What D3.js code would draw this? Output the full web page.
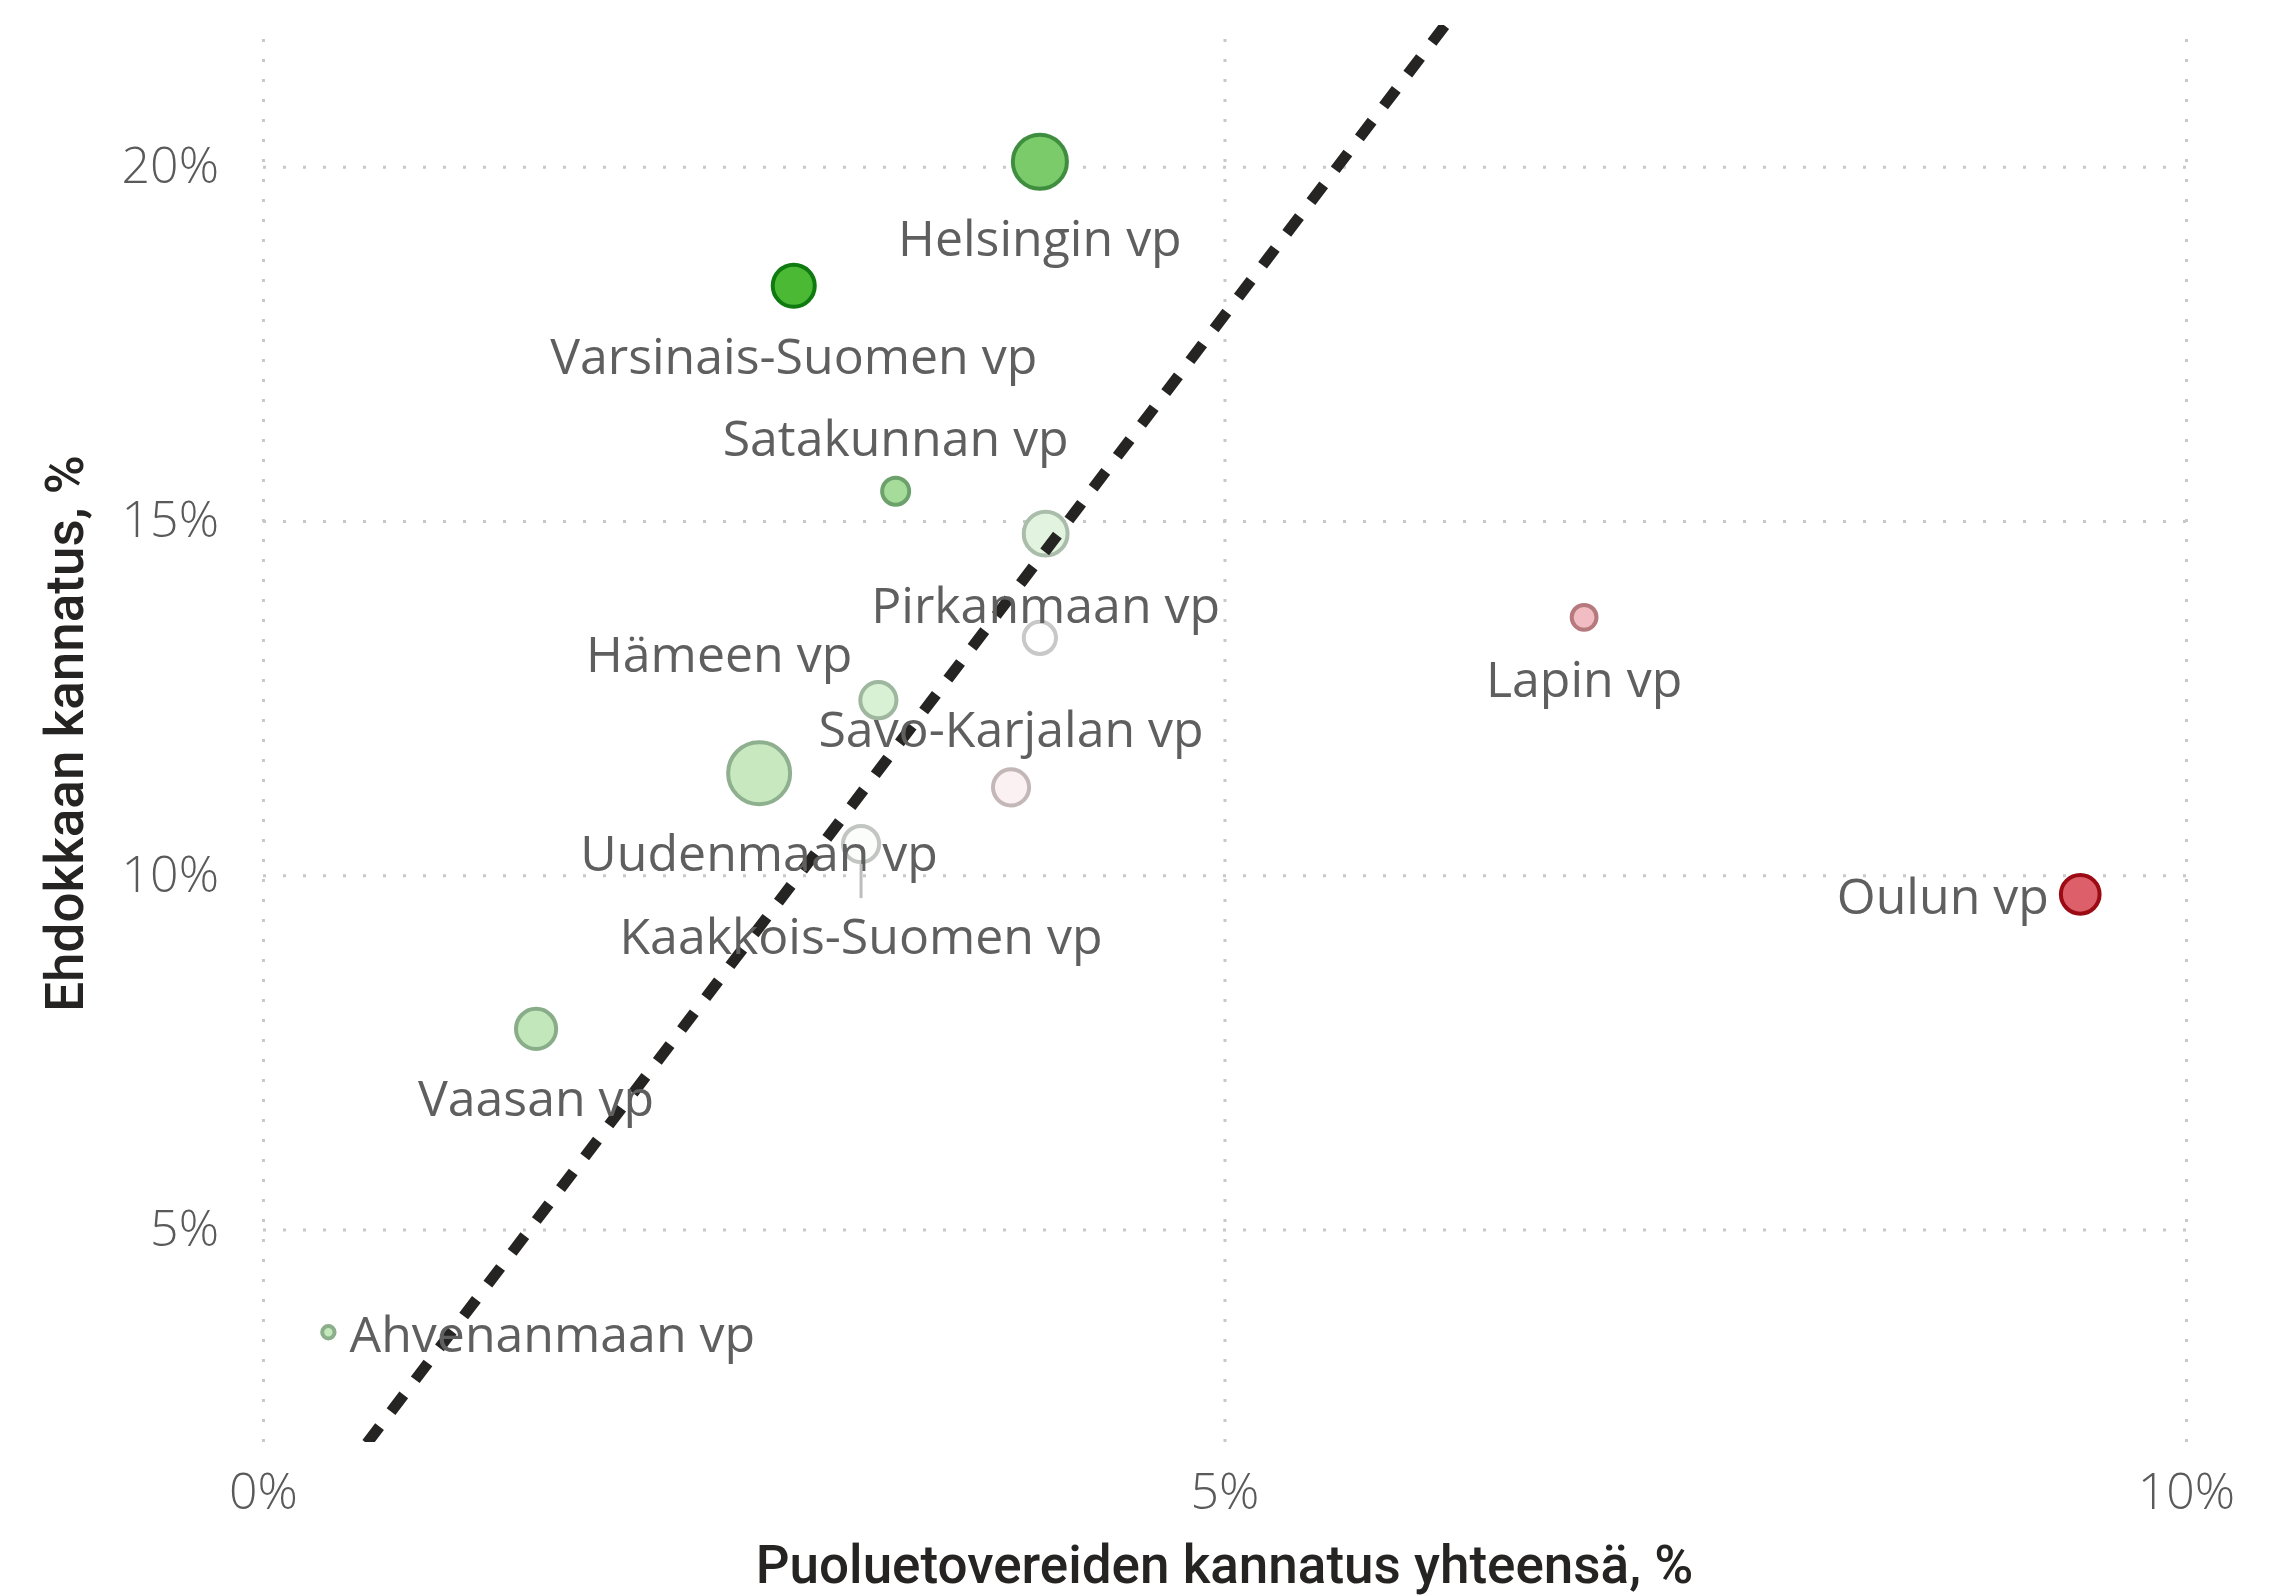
<!DOCTYPE html>
<html lang="fi">
<head>
<meta charset="utf-8">
<title>Ehdokkaan kannatus</title>
<script src="https://cdn.jsdelivr.net/npm/d3@7"></script>
<style>
  body { margin: 0; background: #fff; }
  svg { display: block; }
</style>
</head>
<body>
<svg id="chart"></svg>
<script>
// vaalipiirit
var vaalipiirit = ["Helsingin vp", "Varsinais-Suomen vp", "Satakunnan vp", "Pirkanmaan vp",
  "Keski-Suomen vp", "Hämeen vp", "Uudenmaan vp", "Savo-Karjalan vp", "Kaakkois-Suomen vp",
  "Vaasan vp", "Ahvenanmaan vp", "Lapin vp", "Oulun vp"];
// x: puoluetovereiden kannatus yhteensä, %
var puoluetoverit = [4.04, 2.76, 3.29, 4.07, 4.04, 3.20, 2.58, 3.89, 3.11, 1.42, 0.34, 6.87, 9.45];
// y: ehdokkaan kannatus, %
var ehdokas = [20.07, 18.32, 15.42, 14.82, 13.35, 12.47, 11.44, 11.24, 10.44, 7.83, 3.55, 13.64, 9.73];
// kuplan koko (suhteellinen)
var koko = [76, 46, 19, 50, 27, 34, 100, 34, 34, 42, 4, 16, 39];
// väriarvo, -1 = punainen ... 1 = vihreä
var vari = [0.74, 1.0, 0.5, 0.16, 0, 0.22, 0.31, -0.09, 0.03, 0.34, 0.33, -0.41, -1];

var xTicks = [0, 5, 10];
var yTicks = [5, 10, 15, 20];

// katkoviiva
var trendiX = [0.54, 6.17];
var trendiY = [1.98, 22.08];

// label placement (Keski-Suomen label hidden like in the original)
var labelPos = {
  "Helsingin vp": "below", "Varsinais-Suomen vp": "below", "Satakunnan vp": "above",
  "Pirkanmaan vp": "below", "Hämeen vp": "upleft", "Uudenmaan vp": "below",
  "Savo-Karjalan vp": "above", "Kaakkois-Suomen vp": "leader", "Vaasan vp": "below",
  "Ahvenanmaan vp": "right", "Lapin vp": "below", "Oulun vp": "left"
};

var W = 2294, H = 1596;
var margin = { top: 25, right: 108, bottom: 154, left: 263 };
var w = W - margin.left - margin.right,
    h = H - margin.top - margin.bottom;

var data = vaalipiirit.map(function (d, i) {
  return { nimi: d, x: puoluetoverit[i], y: ehdokas[i], koko: koko[i], v: vari[i] };
});

var svg = d3.select("#chart").attr("width", W).attr("height", H);
var g = svg.append("g").attr("transform", `translate(${margin.left},${margin.top})`);

var x = d3.scaleLinear().domain([0, 10]).range([0, w]);
var y = d3.scaleLinear().domain([2, 22]).range([h, 0]);
var r = d3.scaleSqrt().domain([0, 100]).range([0, 31]);

var fill = d3.scaleLinear().domain([-1, 0, 1]).range(["#dc5f6a", "#ffffff", "#4cb935"]);
var stroke = d3.scaleLinear().domain([-1, 0, 1]).range(["#9c0a14", "#c8c8c8", "#0f7a0f"]);

var labelFont = "'Segoe UI', 'Open Sans', sans-serif";
var titleFont = "'DIN', Roboto, sans-serif";

// gridlines
g.append("g").attr("class", "xgrid")
  .attr("transform", `translate(0,${h})`)
  .call(d3.axisBottom(x).tickValues(xTicks).tickSize(-h).tickFormat(""))
  .call(s => s.select(".domain").remove());
g.append("g").attr("class", "ygrid")
  .call(d3.axisLeft(y).tickValues(yTicks).tickSize(-w).tickFormat(""))
  .call(s => s.select(".domain").remove());
g.selectAll(".xgrid line, .ygrid line")
  .attr("stroke", "#c8c8c8").attr("stroke-width", 3)
  .attr("stroke-dasharray", "3 17");

// axes (labels only)
var xAxis = g.append("g")
  .attr("transform", `translate(0,${h})`)
  .call(d3.axisBottom(x).tickValues(xTicks).tickSize(0).tickPadding(31).tickFormat(d => d + "%"));
var yAxis = g.append("g")
  .call(d3.axisLeft(y).tickValues(yTicks).tickSize(0).tickPadding(44).tickFormat(d => d + "%"));
[xAxis, yAxis].forEach(function (a) {
  a.select(".domain").remove();
  a.selectAll("text")
    .attr("fill", "#5a5a5a")
    .style("font-family", labelFont)
    .style("font-weight", 300)
    .style("font-size", "50px");
});

// bubbles
g.append("g").selectAll("circle")
  .data(data.slice().sort((a, b) => b.koko - a.koko))
  .join("circle")
  .attr("cx", d => x(d.x))
  .attr("cy", d => y(d.y))
  .attr("r", d => r(d.koko))
  .attr("fill", d => fill(d.v))
  .attr("stroke", d => stroke(d.v))
  .attr("stroke-width", 4);

// dashed line
svg.append("defs").append("clipPath").attr("id", "plotclip")
  .append("rect").attr("width", w).attr("height", h);
g.append("line")
  .attr("clip-path", "url(#plotclip)")
  .attr("x1", x(trendiX[0])).attr("y1", y(trendiY[0]))
  .attr("x2", x(trendiX[1])).attr("y2", y(trendiY[1]))
  .attr("stroke", "#252423")
  .attr("stroke-width", 11)
  .attr("stroke-dasharray", "21 19");

// data labels
var labels = g.append("g")
  .style("font-family", labelFont)
  .style("font-size", "50px")
  .attr("fill", "#5f5f5f");

data.forEach(function (d) {
  var pos = labelPos[d.nimi];
  if (!pos) return;
  var cx = x(d.x), cy = y(d.y), rr = r(d.koko) + 2;
  var tx = cx, ty = cy, anchor = "middle";
  if (pos === "below") { ty = cy + rr + 65; }
  else if (pos === "above") { ty = cy - rr - 20; }
  else if (pos === "upleft") { tx = cx - rr - 6; ty = cy - 28; anchor = "end"; }
  else if (pos === "left") { tx = cx - rr - 10; ty = cy + 20; anchor = "end"; }
  else if (pos === "right") { tx = cx + rr + 13; ty = cy + 20; anchor = "start"; }
  else if (pos === "leader") {
    ty = cy + rr + 90;
    labels.append("line")
      .attr("x1", cx).attr("x2", cx)
      .attr("y1", cy + rr).attr("y2", cy + rr + 34)
      .attr("stroke", "#bdbdbd").attr("stroke-width", 3);
  }
  labels.append("text")
    .attr("x", tx).attr("y", ty)
    .attr("text-anchor", anchor)
    .text(d.nimi);
});

// axis titles
svg.append("text")
  .attr("x", margin.left + w / 2)
  .attr("y", 1583)
  .attr("text-anchor", "middle")
  .attr("fill", "#252423")
  .style("font-family", titleFont)
  .style("font-weight", 500)
  .style("font-size", "53px")
  .text("Puoluetovereiden kannatus yhteensä, %");

svg.append("text")
  .attr("transform", `translate(83,${margin.top + h / 2}) rotate(-90)`)
  .attr("text-anchor", "middle")
  .attr("fill", "#252423")
  .style("font-family", titleFont)
  .style("font-weight", 500)
  .style("font-size", "53px")
  .text("Ehdokkaan kannatus, %");
</script>
</body>
</html>
